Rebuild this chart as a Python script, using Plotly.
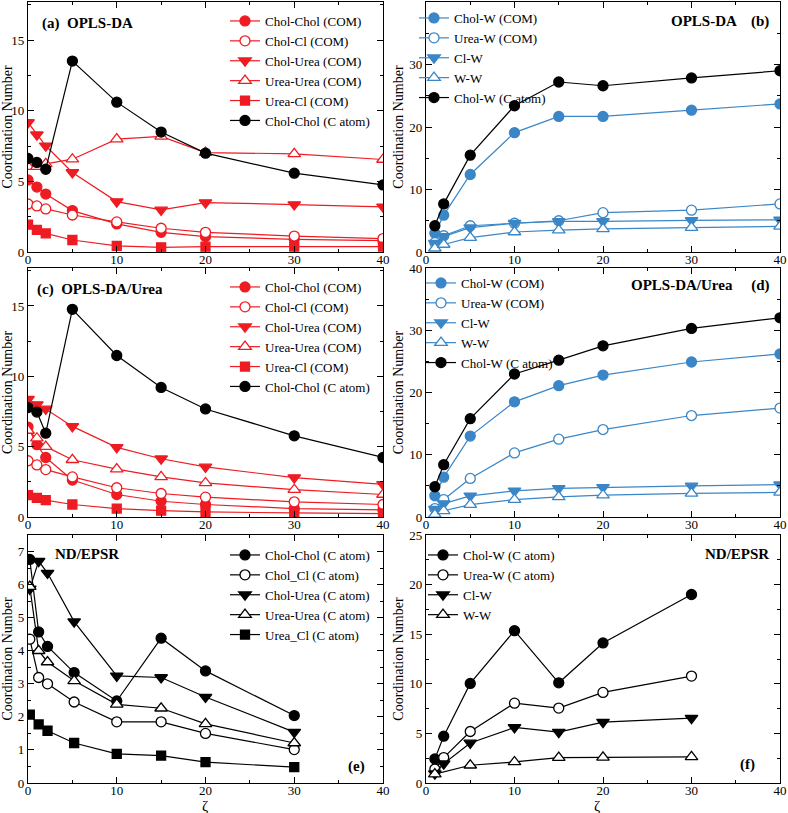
import plotly.graph_objects as go

# ---------------- data ----------------
x_a = [0, 1, 2, 5, 10, 15, 20, 30, 40]
a_cholchol_com = [5.1, 4.6, 4.1, 2.93, 1.99, 1.39, 1.09, 0.9, 0.8]
a_cholcl_com = [3.4, 3.26, 3.05, 2.62, 2.13, 1.68, 1.39, 1.13, 0.95]
a_cholurea_com = [9.17, 8.3, 7.52, 5.63, 3.57, 2.98, 3.5, 3.36, 3.2]
a_ureaurea_com = [6.05, 6.05, 6.24, 6.57, 7.99, 8.18, 7.04, 6.95, 6.55]
a_ureacl_com = [1.94, 1.56, 1.32, 0.85, 0.43, 0.33, 0.38, 0.38, 0.38]
a_cholchol_c = [6.62, 6.34, 5.86, 13.52, 10.61, 8.49, 7.0, 5.58, 4.75]

x_b = [1, 2, 5, 10, 15, 20, 30, 40]
b_cholw_com = [3.0, 5.9, 12.4, 19.1, 21.7, 21.7, 22.7, 23.7]
b_ureaw_com = [1.5, 2.6, 4.2, 4.6, 5.0, 6.3, 6.7, 7.7]
b_clw = [1.4, 2.5, 3.9, 4.6, 4.9, 4.9, 5.05, 5.15]
b_ww = [0.6, 1.2, 2.3, 3.2, 3.5, 3.7, 3.9, 4.1]
b_cholw_c = [4.2, 7.7, 15.5, 23.4, 27.2, 26.6, 27.85, 29.0]

x_c = [0, 1, 2, 5, 10, 15, 20, 30, 40]
c_cholchol_com = [6.39, 5.14, 4.23, 2.63, 1.6, 1.12, 0.89, 0.6, 0.5]
c_cholcl_com = [4.0, 3.7, 3.37, 2.85, 2.08, 1.67, 1.41, 1.08, 0.89]
c_cholurea_com = [8.37, 7.99, 7.68, 6.44, 4.95, 4.14, 3.56, 2.8, 2.32]
c_ureaurea_com = [6.15, 5.6, 5.0, 4.07, 3.4, 2.85, 2.42, 1.94, 1.6]
c_ureacl_com = [1.56, 1.36, 1.2, 0.89, 0.6, 0.45, 0.36, 0.29, 0.24]
c_cholchol_c = [7.78, 7.46, 5.96, 14.76, 11.48, 9.21, 7.68, 5.77, 4.23]

x_d = [1, 2, 5, 10, 15, 20, 30, 40]
d_cholw_com = [3.4, 6.4, 13.0, 18.5, 21.1, 22.8, 24.9, 26.2]
d_ureaw_com = [1.35, 2.8, 6.2, 10.3, 12.5, 14.05, 16.3, 17.5]
d_clw = [1.25, 2.16, 3.4, 4.2, 4.6, 4.76, 5.0, 5.2]
d_ww = [0.4, 1.0, 2.0, 2.8, 3.24, 3.5, 3.8, 3.95]
d_cholw_c = [4.86, 8.4, 15.8, 22.97, 25.2, 27.5, 30.3, 32.0]

x_e = [0.2, 1.2, 2.2, 5.2, 10, 15, 20, 30]
e_cholchol = [6.76, 4.57, 4.13, 3.34, 2.48, 4.38, 3.39, 2.04]
e_cholcl = [4.35, 3.19, 3.0, 2.45, 1.85, 1.85, 1.5, 1.01]
e_cholurea = [5.87, 6.71, 6.35, 4.88, 3.24, 3.19, 2.6, 1.54]
e_ureaurea = [5.94, 4.0, 3.66, 3.09, 2.38, 2.26, 1.79, 1.21]
e_ureacl = [2.07, 1.77, 1.58, 1.21, 0.88, 0.83, 0.63, 0.48]

x_f = [1, 2, 5, 10, 15, 20, 30]
x_f_ww = [1, 5, 10, 15, 20, 30]
f_cholw = [2.43, 4.72, 10.04, 15.36, 10.1, 14.12, 19.0]
f_ureaw = [1.41, 2.56, 5.19, 8.05, 7.55, 9.13, 10.78]
f_clw = [0.94, 1.95, 4.04, 5.6, 5.12, 6.13, 6.54]
f_ww = [0.9, 1.79, 2.12, 2.56, 2.59, 2.63]

# ---------------- styling ----------------
RED = "#ee1c22"
BLUE = "#3a86c6"
BLACK = "#000000"
FONT = "Liberation Serif"
W, H = 788, 813

fig = go.Figure()

def add(panel, x, y, name, color, kind):
    sym = {"fc": "circle", "oc": "circle", "td": "triangle-down",
           "tu": "triangle-up", "sq": "square"}[kind]
    filled = kind in ("fc", "td", "sq")
    size = {"fc": 10, "oc": 10, "td": 11, "tu": 11, "sq": 9}[kind]
    fig.add_trace(go.Scatter(
        x=x, y=y, name=name, mode="lines+markers",
        xaxis="x" if panel == 1 else f"x{panel}",
        yaxis="y" if panel == 1 else f"y{panel}",
        legend="legend" if panel == 1 else f"legend{panel}",
        line=dict(color=color, width=1.2),
        marker=dict(symbol=sym, size=size,
                    color=color if filled else "white",
                    line=dict(color=color, width=1.3)),
    ))

# (a)
add(1, x_a, a_cholchol_com, "Chol-Chol (COM)", RED, "fc")
add(1, x_a, a_cholcl_com, "Chol-Cl (COM)", RED, "oc")
add(1, x_a, a_cholurea_com, "Chol-Urea (COM)", RED, "td")
add(1, x_a, a_ureaurea_com, "Urea-Urea (COM)", RED, "tu")
add(1, x_a, a_ureacl_com, "Urea-Cl (COM)", RED, "sq")
add(1, x_a, a_cholchol_c, "Chol-Chol (C atom)", BLACK, "fc")
# (b)
add(2, x_b, b_cholw_com, "Chol-W (COM)", BLUE, "fc")
add(2, x_b, b_ureaw_com, "Urea-W (COM)", BLUE, "oc")
add(2, x_b, b_clw, "Cl-W", BLUE, "td")
add(2, x_b, b_ww, "W-W", BLUE, "tu")
add(2, x_b, b_cholw_c, "Chol-W (C atom)", BLACK, "fc")
# (c)
add(3, x_c, c_cholchol_com, "Chol-Chol (COM)", RED, "fc")
add(3, x_c, c_cholcl_com, "Chol-Cl (COM)", RED, "oc")
add(3, x_c, c_cholurea_com, "Chol-Urea (COM)", RED, "td")
add(3, x_c, c_ureaurea_com, "Urea-Urea (COM)", RED, "tu")
add(3, x_c, c_ureacl_com, "Urea-Cl (COM)", RED, "sq")
add(3, x_c, c_cholchol_c, "Chol-Chol (C atom)", BLACK, "fc")
# (d)
add(4, x_d, d_cholw_com, "Chol-W (COM)", BLUE, "fc")
add(4, x_d, d_ureaw_com, "Urea-W (COM)", BLUE, "oc")
add(4, x_d, d_clw, "Cl-W", BLUE, "td")
add(4, x_d, d_ww, "W-W", BLUE, "tu")
add(4, x_d, d_cholw_c, "Chol-W (C atom)", BLACK, "fc")
# (e)
add(5, x_e, e_cholchol, "Chol-Chol (C atom)", BLACK, "fc")
add(5, x_e, e_cholcl, "Chol_Cl (C atom)", BLACK, "oc")
add(5, x_e, e_cholurea, "Chol-Urea (C atom)", BLACK, "td")
add(5, x_e, e_ureaurea, "Urea-Urea (C atom)", BLACK, "tu")
add(5, x_e, e_ureacl, "Urea_Cl (C atom)", BLACK, "sq")
# (f)
add(6, x_f, f_cholw, "Chol-W (C atom)", BLACK, "fc")
add(6, x_f, f_ureaw, "Urea-W (C atom)", BLACK, "oc")
add(6, x_f, f_clw, "Cl-W", BLACK, "td")
add(6, x_f_ww, f_ww, "W-W", BLACK, "tu")

# ---------------- layout ----------------
xl = [28 / W, 383 / W]
xr = [426 / W, 780 / W]
rows = [[1 - 252 / H, 1 - 2 / H], [1 - 517 / H, 1 - 268 / H], [1 - 783 / H, 1 - 535 / H]]
yranges = {1: [0, 17.7], 2: [0, 40], 3: [0, 17.7], 4: [0, 40], 5: [0, 7.5], 6: [0, 25]}
ydt = {1: 5, 2: 10, 3: 5, 4: 10, 5: 1, 6: 5}

layout = dict(
    width=W, height=H, paper_bgcolor="white", plot_bgcolor="white",
    margin=dict(l=0, r=0, t=0, b=0, autoexpand=False),
    font=dict(family=FONT, size=13, color="black"),
)
for p in range(1, 7):
    col = (p - 1) % 2
    row = (p - 1) // 2
    sx = "" if p == 1 else str(p)
    xa = dict(domain=xl if col == 0 else xr, range=[0, 40], dtick=10,
              anchor="y" + sx, showline=True, linecolor="black", linewidth=1.2,
              mirror="allticks", ticks="inside", ticklen=6, tickwidth=1,
              tickcolor="black", showgrid=False, zeroline=False, automargin=False,
              ticklabelstandoff=-5,
              minor=dict(ticks="inside", ticklen=3, dtick=5, tickcolor="black", showgrid=False),
              tickfont=dict(size=13, family=FONT))
    ya = dict(domain=rows[row], range=yranges[p], dtick=ydt[p],
              anchor="x" + sx, showline=True, linecolor="black", linewidth=1.2,
              mirror="allticks", ticks="inside", ticklen=6, tickwidth=1,
              tickcolor="black", showgrid=False, zeroline=False, automargin=False,
              minor=dict(ticks="inside", ticklen=3, dtick=ydt[p] / 2, tickcolor="black", showgrid=False),
              tickfont=dict(size=13, family=FONT),
              title=dict(text="Coordination Number", font=dict(size=14, family=FONT), standoff=2))
    layout["xaxis" + sx] = xa
    layout["yaxis" + sx] = ya

# legends
leg_pos = {1: (225, 6), 2: (414, 3), 3: (225, 272), 4: (421, 268), 5: (225, 540), 6: (423, 540)}
for p, (lx, ly) in leg_pos.items():
    key = "legend" if p == 1 else f"legend{p}"
    layout[key] = dict(x=lx / W, y=1 - ly / H, xanchor="left", yanchor="top",
                       bgcolor="rgba(0,0,0,0)", borderwidth=0,
                       font=dict(size=13, family=FONT), tracegroupgap=0,
                       itemwidth=30)

fig.update_layout(**layout)

# panel labels
def lab(p, text, xd, yd, anchor):
    sx = "" if p == 1 else str(p)
    fig.add_annotation(text=text, xref=f"x{sx} domain", yref=f"y{sx} domain",
                       x=xd, y=yd, xanchor=anchor, yanchor="middle", showarrow=False,
                       font=dict(size=15, family=FONT, color="black"))

lab(1, "<b>(a)  OPLS-DA</b>", 0.035, 0.915, "left")
lab(2, "<b>OPLS-DA    (b)</b>", 0.975, 0.92, "right")
lab(3, "<b>(c)  OPLS-DA/Urea</b>", 0.02, 0.915, "left")
lab(4, "<b>OPLS-DA/Urea     (d)</b>", 0.975, 0.93, "right")
lab(5, "<b>ND/EPSR</b>", 0.07, 0.925, "left")
lab(5, "<b>(e)</b>", 0.955, 0.065, "right")
lab(6, "<b>ND/EPSR</b>", 0.975, 0.925, "right")
lab(6, "<b>(f)</b>", 0.935, 0.075, "right")

# x-axis titles (ζ) below bottom panels
for p, xpx in ((5, 205), (6, 597)):
    fig.add_annotation(text="ζ", xref="paper", yref="paper",
                       x=xpx / W, y=1 - 806 / H, xanchor="center", yanchor="middle",
                       showarrow=False, font=dict(size=15, family=FONT, color="black"))

fig.write_html("out.html", config={"displayModeBar": False},
               post_script="document.body.style.margin='0';document.body.style.padding='0';")
